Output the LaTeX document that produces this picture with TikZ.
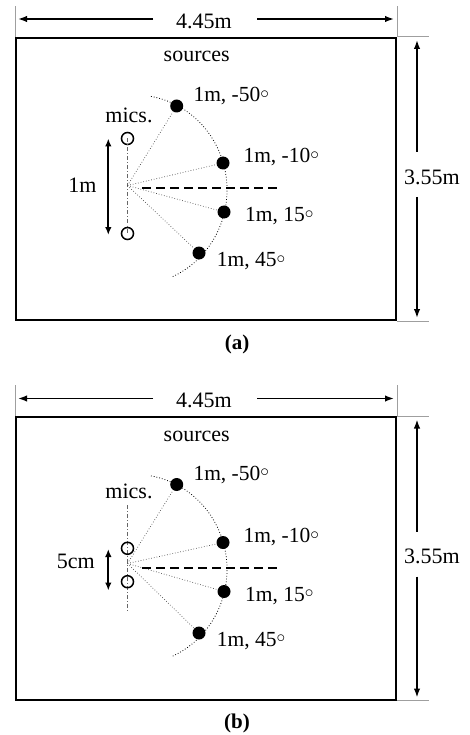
\documentclass[tikz,border=0pt]{standalone}
\usepackage{fontspec}
\setmainfont{Liberation Serif}
\usetikzlibrary{arrows.meta, positioning}
\tikzset{
  roombox/.style={draw=black, line width=2pt, minimum width=380pt, minimum height=282.3pt, inner sep=0pt},
  extline/.style={draw=gray!75, line width=0.8pt},
  dimarrow/.style={-{Latex[length=9pt,width=6.5pt]}, line width=1.7pt},
  spanarrow/.style={{Latex[length=8pt,width=6.5pt]}-{Latex[length=8pt,width=6.5pt]}, line width=1.9pt},
  srcnode/.style={circle, fill=black, minimum size=13pt, inner sep=0pt},
  micnode/.style={circle, draw=black, line width=1.5pt, minimum size=12pt, inner sep=0pt},
  rayline/.style={dotted, draw=gray!60!black, line width=0.7pt},
  arcline/.style={dotted, line width=0.8pt},
  axisline/.style={dash pattern=on 9pt off 5pt, line width=1.6pt},
  micaxis/.style={draw=gray!80!black, line width=0.7pt, dash pattern=on 4pt off 2pt on 1pt off 2pt},
  srclabel/.style={font=\fontsize{21.5}{26}\selectfont, anchor=base west, inner sep=0pt},
  txtlabel/.style={font=\fontsize{22}{26}\selectfont, anchor=base, inner sep=0pt},
  figcaption/.style={font=\fontsize{21}{26}\selectfont\bfseries, anchor=base, inner sep=0pt}
}
\newcommand{\degsign}{\raisebox{3.5pt}{\fontsize{17}{17}\selectfont$\circ$}}

\begin{document}
\begin{tikzpicture}[x=1pt, y=-1pt]
  \useasboundingbox (0,0) rectangle (469,735);

  % (a) mics 1m apart
  \node[roombox] at (206,178.85) (rooma) {};
  \draw[extline] (rooma.north west) -- ++(0,-31);
  \draw[extline] (rooma.north east) -- ++(0,-31);
  \draw[extline] (rooma.north east) -- ++(32,0);
  \draw[extline] (rooma.south east) -- ++(32,0);

  \coordinate (wLa) at (18,19);   \coordinate (wgLa) at (153,19);
  \coordinate (wRa) at (394,19);  \coordinate (wgRa) at (257,19);
  \draw[dimarrow] (wgLa) -- (wLa);
  \draw[dimarrow] (wgRa) -- (wRa);
  \node[txtlabel] at (204,28.3) (widtha) {4.45m};
  \coordinate (hTa) at (417,40);   \coordinate (hgTa) at (417,152);
  \coordinate (hBa) at (417,318);  \coordinate (hgBa) at (417,197);
  \draw[dimarrow] (hgTa) -- (hTa);
  \draw[dimarrow] (hgBa) -- (hBa);
  \node[txtlabel] at (432,184.3) (heighta) {3.55m};

  \node[txtlabel] at (196.7,61.7) (srcsa) {sources};
  \node[txtlabel] at (129,122.7) (micsa) {mics.};

  \coordinate (oa) at (127.5,185.5);
  \node[micnode] at (127.5,138.5) (m1a) {};
  \node[micnode] at (127.5,233.5) (m2a) {};
  \draw[micaxis] (m1a.center) -- (m2a.center);
  \coordinate (spTa) at (108.3,138.5);
  \coordinate (spBa) at (108.3,235);
  \draw[spanarrow] (spTa) -- (spBa);
  \node[txtlabel] at (82.5,192.7) (spana) {1m};

  \draw[arcline] (151,96.4) arc[start angle=-80, end angle=66, x radius=92, y radius=95];
  \node[srcnode] at (176.7,106) (s50a) {};
  \node[srcnode] at (223,163) (s10a) {};
  \node[srcnode] at (224,212) (s15a) {};
  \node[srcnode] at (199,253) (s45a) {};
  \draw[rayline] (oa) -- (s50a);
  \draw[rayline] (oa) -- (s10a);
  \draw[rayline] (oa) -- (s15a);
  \draw[rayline] (oa) -- (s45a);
  \coordinate (ax1a) at (142,188);
  \coordinate (ax2a) at (278,188);
  \draw[axisline] (ax1a) -- (ax2a);

  \node[srclabel] at (193.3,101.7) (l50a) {1m, -50\degsign};
  \node[srclabel] at (243.3,163) (l10a) {1m, -10\degsign};
  \node[srclabel] at (245,221.7) (l15a) {1m, 15\degsign};
  \node[srclabel] at (216.7,266.7) (l45a) {1m, 45\degsign};

  \node[figcaption] at (237,349.3) (capa) {(a)};

  % (b) mics 5cm apart
  \begin{scope}[shift={(0,379.5)}]
    \node[roombox] at (206,178.85) (roomb) {};
    \draw[extline] (roomb.north west) -- ++(0,-31);
    \draw[extline] (roomb.north east) -- ++(0,-31);
    \draw[extline] (roomb.north east) -- ++(32,0);
    \draw[extline] (roomb.south east) -- ++(32,0);

    \coordinate (wLb) at (18,19);   \coordinate (wgLb) at (153,19);
    \coordinate (wRb) at (394,19);  \coordinate (wgRb) at (257,19);
    \draw[dimarrow] (wgLb) -- (wLb);
    \draw[dimarrow] (wgRb) -- (wRb);
    \node[txtlabel] at (204,28.3) (widthb) {4.45m};
    \coordinate (hTb) at (417,40);   \coordinate (hgTb) at (417,152);
    \coordinate (hBb) at (417,318);  \coordinate (hgBb) at (417,197);
    \draw[dimarrow] (hgTb) -- (hTb);
    \draw[dimarrow] (hgBb) -- (hBb);
    \node[txtlabel] at (432,184.3) (heightb) {3.55m};

    \node[txtlabel] at (196.7,61.7) (srcsb) {sources};
    \node[txtlabel] at (129,118.8) (micsb) {mics.};

    \coordinate (ob) at (127.5,184);
    \coordinate (mTb) at (127.5,125.5);
    \coordinate (mBb) at (127.5,232);
    \draw[micaxis] (mTb) -- (mBb);
    \node[micnode] at (127.5,168.8) (m1b) {};
    \node[micnode] at (127.5,202.2) (m2b) {};
    \coordinate (spTb) at (108.3,169.5);
    \coordinate (spBb) at (108.3,211);
    \draw[spanarrow] (spTb) -- (spBb);
    \node[txtlabel] at (75.8,188.8) (spanb) {5cm};

    \draw[arcline] (151,96.4) arc[start angle=-80, end angle=66, x radius=92, y radius=95];
    \node[srcnode] at (176.7,105) (s50b) {};
    \node[srcnode] at (223,163) (s10b) {};
    \node[srcnode] at (224,212) (s15b) {};
    \node[srcnode] at (199,253.5) (s45b) {};
    \draw[rayline] (ob) -- (s50b);
    \draw[rayline] (ob) -- (s10b);
    \draw[rayline] (ob) -- (s15b);
    \draw[rayline] (ob) -- (s45b);
    \coordinate (ax1b) at (142,188.5);
    \coordinate (ax2b) at (280,188.5);
    \draw[axisline] (ax1b) -- (ax2b);

    \node[srclabel] at (193.3,100.5) (l50b) {1m, -50\degsign};
    \node[srclabel] at (243.3,163) (l10b) {1m, -10\degsign};
    \node[srclabel] at (245,221.7) (l15b) {1m, 15\degsign};
    \node[srclabel] at (216.7,266.7) (l45b) {1m, 45\degsign};

    \node[figcaption] at (237,348.8) (capb) {(b)};
  \end{scope}
\end{tikzpicture}
\end{document}
